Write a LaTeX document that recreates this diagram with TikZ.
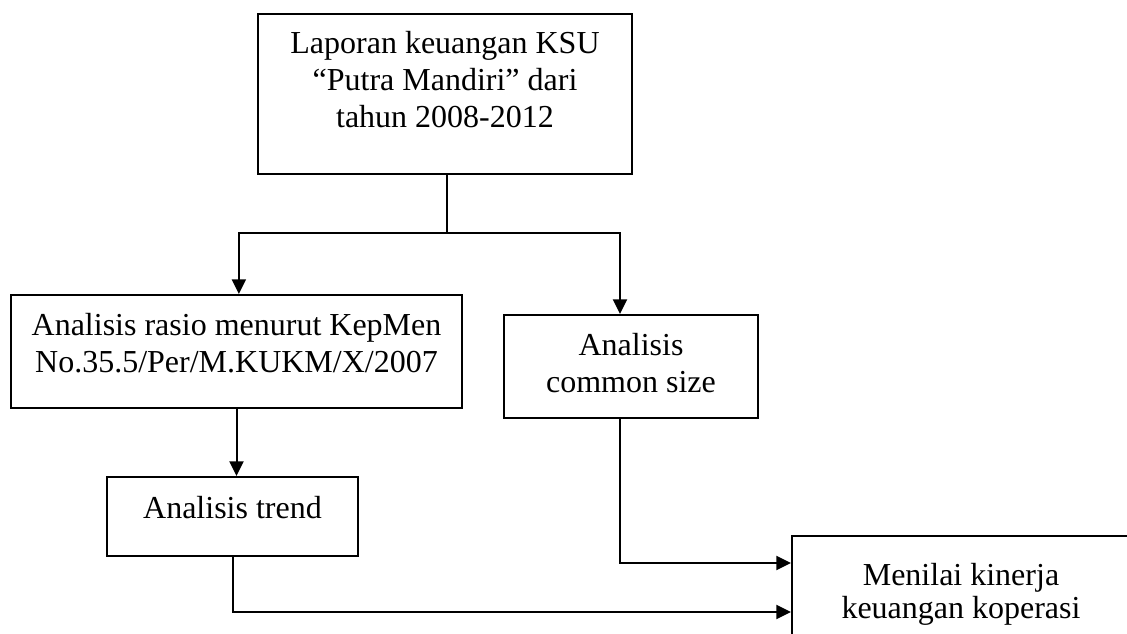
\documentclass[tikz,border=0pt]{standalone}
\usepackage{fontspec}
\setmainfont{Liberation Serif}
\usetikzlibrary{arrows.meta}
\tikzset{
  box/.style={draw, line width=1.5pt, inner sep=0pt, font=\fontsize{24pt}{28pt}\selectfont},
  conn/.style={line width=1.5pt},
  arr/.style={line width=1.5pt, -{Triangle[length=11pt,width=10.5pt]}}
}
\begin{document}
\begin{tikzpicture}[x=0.75pt,y=-0.75pt]
\useasboundingbox (0,0) rectangle (1127,633);
\clip (0,0) rectangle (1127,633);
\node[box] (top) at (445,94)
  {\parbox[c][120pt][t]{280.5pt}{\centering\vspace*{9.65pt}\strut Laporan keuangan KSU\\ “Putra Mandiri” dari\\ tahun 2008-2012}};
\node[box] (rasio) at (236.5,351.5)
  {\parbox[c][84.75pt][t]{338.25pt}{\centering\vspace*{10.4pt}\strut Analisis rasio menurut KepMen\\ No.35.5/Per/M.KUKM/X/2007}};
\node[box] (common) at (631,366.5)
  {\parbox[c][77.25pt][t]{190.5pt}{\centering\vspace*{10.4pt}\strut Analisis\\ common size}};
\node[box] (trend) at (232.5,516.5)
  {\parbox[c][59.25pt][t]{188.25pt}{\centering\vspace*{11.15pt}\strut Analisis trend}};
\node[box] (final) at (961,598)
  {\parbox[c][93pt][t]{253.5pt}{\centering\fontsize{24pt}{25pt}\selectfont\vspace*{19.25pt}\strut Menilai kinerja\\ keuangan koperasi}};
\coordinate (split) at (447,233);
\draw[conn] (top.south -| split) -- (split);
\draw[arr] (split) -| ([xshift=1.8pt]rasio.north);
\draw[arr] (split) -| ([xshift=-8.25pt]common.north);
\draw[arr] (rasio.south) -- (trend.north -| rasio.south);
\draw[arr] ([xshift=-8.25pt]common.south) |- ([yshift=26.25pt]final.west);
\draw[arr] (trend.south) |- ([yshift=-10.5pt]final.west);
\end{tikzpicture}
\end{document}
